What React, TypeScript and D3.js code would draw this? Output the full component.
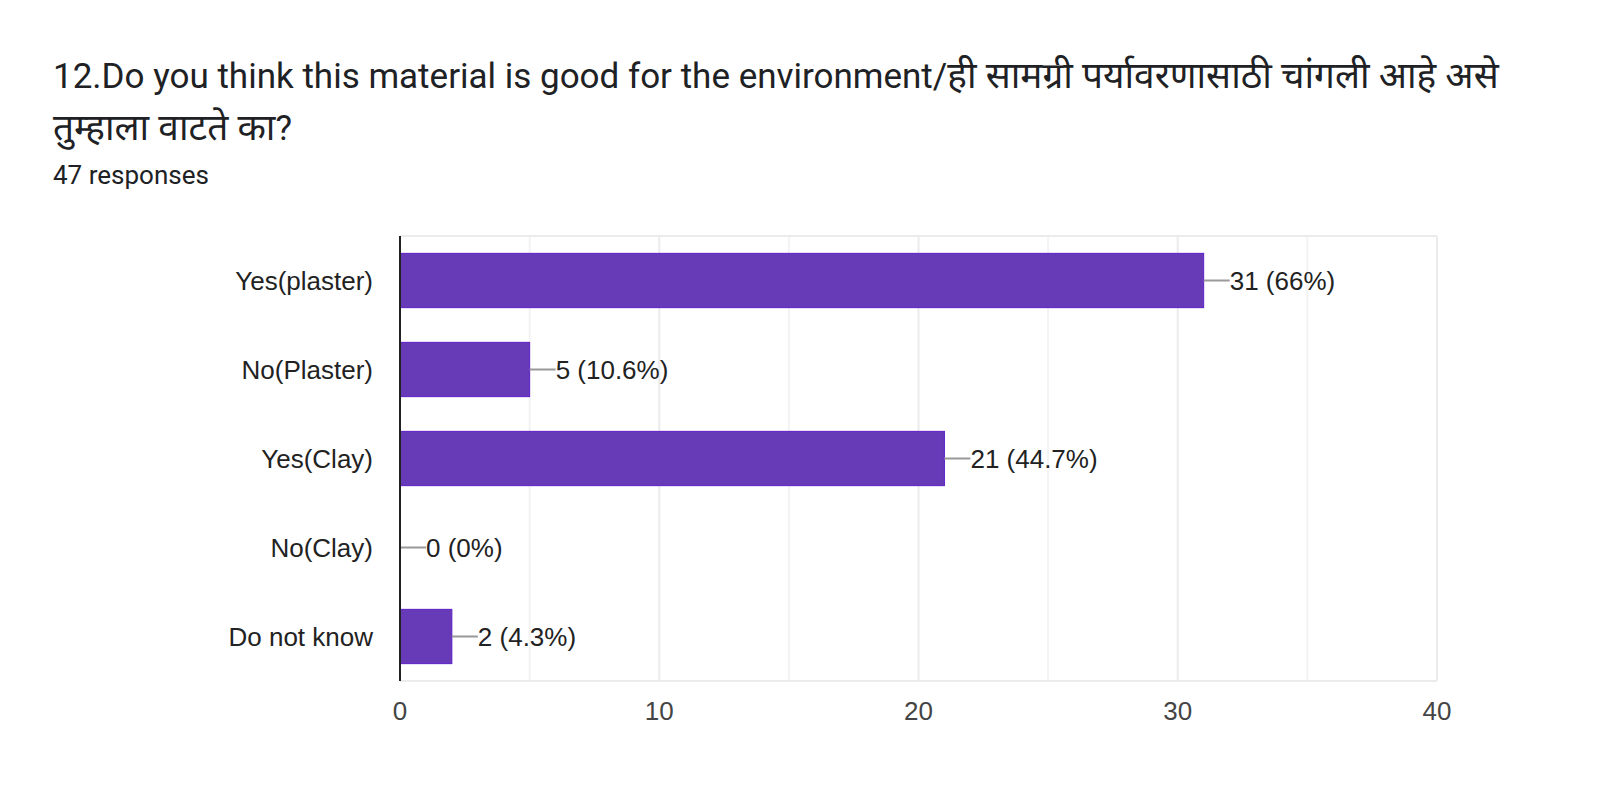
import React from "react";
import * as d3 from "d3";

const categories = ["Yes(plaster)", "No(Plaster)", "Yes(Clay)", "No(Clay)", "Do not know"];
const counts = [31, 5, 21, 0, 2];
const percents = ["66%", "10.6%", "44.7%", "0%", "4.3%"];
const xTicks = [0, 10, 20, 30, 40];
const minorTicks = [5, 15, 25, 35];
const titleLatin = "12.Do you think this material is good for the environment/";
const titleMarathi1 = "ही सामग्री पर्यावरणासाठी चांगली आहे असे";
const titleMarathi2 = "तुम्हाला वाटते का";
const subtitle = "47 responses";

const W = 1600;
const H = 812;
const plot = { left: 400, right: 1437, top: 236, bottom: 681 };

export default function App() {
  const x = d3.scaleLinear().domain([0, 40]).range([plot.left, plot.right]);
  const y = d3.scaleBand<string>().domain(categories).range([plot.top, plot.bottom]).paddingInner(0.39).paddingOuter(0.195);
  const labelFont = "Arial, 'Liberation Sans', sans-serif";
  const titleFont = "Roboto, 'Noto Sans', sans-serif";
  return (
    <svg width={W} height={H} style={{ position: "absolute", left: 0, top: 0, background: "#fff" }}>
      <text x={53} y={88} fontFamily={titleFont} fontSize={35} fill="#202124">
        <tspan>{titleLatin}</tspan>
        <tspan fontSize={37}>{titleMarathi1}</tspan>
      </text>
      <text x={53} y={140} fontFamily={titleFont} fontSize={35} fill="#202124">
        <tspan fontSize={37}>{titleMarathi2}</tspan>
        <tspan>?</tspan>
      </text>
      <text x={53} y={184} fontFamily={titleFont} fontSize={26} fill="#202124">{subtitle}</text>

      {minorTicks.map((t) => (
        <line key={"m" + t} x1={x(t)} x2={x(t)} y1={plot.top} y2={plot.bottom} stroke="#f3f3f3" strokeWidth={2} />
      ))}
      {xTicks.slice(1).map((t) => (
        <line key={"g" + t} x1={x(t)} x2={x(t)} y1={plot.top} y2={plot.bottom} stroke="#ebebeb" strokeWidth={2} />
      ))}
      <line x1={plot.left} x2={plot.right} y1={plot.top} y2={plot.top} stroke="#ebebeb" strokeWidth={2} />
      <line x1={plot.left} x2={plot.right} y1={plot.bottom} y2={plot.bottom} stroke="#ebebeb" strokeWidth={2} />

      {categories.map((c, i) => {
        const by = y(c)!;
        const bh = y.bandwidth();
        const cy = by + bh / 2;
        const xe = x(counts[i]);
        return (
          <g key={c}>
            {counts[i] > 0 && (
              <rect x={x(0)} y={by} width={xe - x(0)} height={bh} fill="#673ab7" stroke="#5e1fc7" strokeWidth={1} />
            )}
            <line x1={xe} x2={xe + 26} y1={cy} y2={cy} stroke="#999999" strokeWidth={2} />
            <text x={xe + 26} y={cy} dy="0.35em" fontFamily={labelFont} fontSize={26} fill="#222222">
              {`${counts[i]} (${percents[i]})`}
            </text>
            <text x={373} y={cy} dy="0.35em" textAnchor="end" fontFamily={labelFont} fontSize={26} fill="#222222">
              {c}
            </text>
          </g>
        );
      })}

      <line x1={x(0)} x2={x(0)} y1={plot.top} y2={plot.bottom} stroke="#222222" strokeWidth={2} />

      {xTicks.map((t) => (
        <text key={"t" + t} x={x(t)} y={720} textAnchor="middle" fontFamily={labelFont} fontSize={26} fill="#444444">
          {t}
        </text>
      ))}
    </svg>
  );
}
